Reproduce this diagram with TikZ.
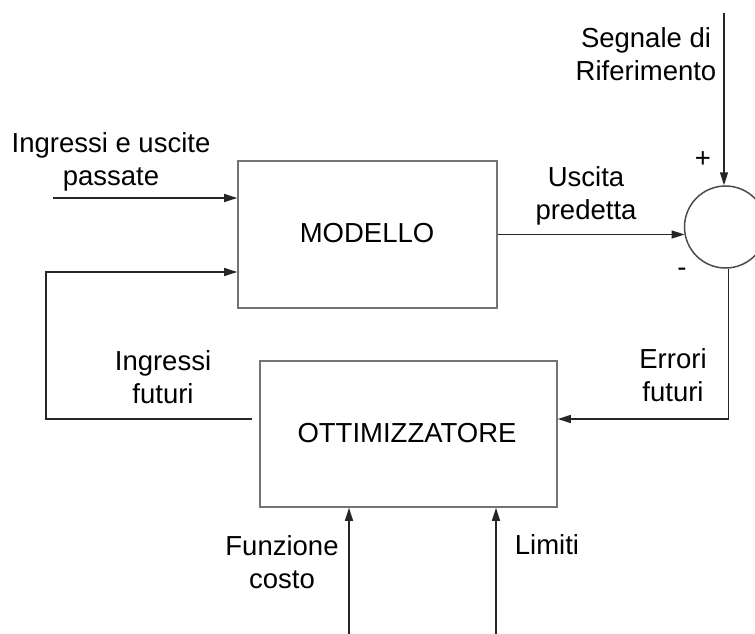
\documentclass[tikz,border=0pt]{standalone}
\usepackage{fontspec}
\setmainfont{Liberation Sans}
\usetikzlibrary{arrows.meta}
\begin{document}
\begin{tikzpicture}[x=1pt,y=-1pt,
  box/.style={draw=black!55,line width=1.6pt,inner sep=0pt},
  lbl/.style={align=center,inner sep=0pt,font=\fontsize{27.5}{33}\selectfont},
  conn/.style={draw=black!85,line width=1.5pt},
  arr/.style={conn,-{Triangle[length=13pt,width=8pt]}}]
\clip (0,0) rectangle (755,634);
\fill[white] (0,0) rectangle (755,634);
% blocks
\node[box,minimum width=259pt,minimum height=147pt] (modello) at (367.5,234.5) {};
\node[lbl] (modtxt) at (367,233) {MODELLO};
\node[box,minimum width=297pt,minimum height=146pt] (ottim) at (408.5,434) {};
\node[lbl] (otttxt) at (407,433) {OTTIMIZZATORE};
\node[draw=black!70,line width=1.5pt,circle,minimum size=82pt,inner sep=0pt] (sum) at (725.5,227) {};
% labels
\node[lbl] (l1) at (111,161.5) {Ingressi e uscite\\passate};
\node[lbl] (l2) at (646,54) {Segnale di\\Riferimento};
\node[lbl] (l3) at (586,196) {Uscita\\predetta};
\node[lbl] (plus) at (703,160) {+};
\node[lbl] (minus) at (682,272) {-};
\node[lbl] (l4) at (163,377) {Ingressi\\futuri};
\node[lbl] (l5) at (673,375) {Errori\\futuri};
\node[lbl] (l6) at (282,562) {Funzione\\costo};
\node[lbl] (l7) at (547,545) {Limiti};
% free ends
\coordinate (refin) at (724,13);
\coordinate (pastin) at (53,198);
\coordinate (fbx) at (53,0);
\coordinate (fcin) at (349,634);
\coordinate (limin) at (496,634);
% connectors
\draw[arr] (refin) -- (refin |- sum.north);
\draw[arr] (pastin) -- (pastin -| modello.west);
\draw[arr] (modello.east) -- (modello.east -| sum.191);
\draw[arr] (sum.-86) |- ([yshift=15pt]ottim.east);
\draw[arr] ([xshift=-7pt,yshift=15pt]ottim.west) -- ([xshift=-7pt,yshift=15pt]ottim.west -| fbx) |- ([yshift=-37.5pt]modello.west);
\draw[arr] (fcin) -- (fcin |- ottim.south);
\draw[arr] (limin) -- (limin |- ottim.south);
\end{tikzpicture}
\end{document}
